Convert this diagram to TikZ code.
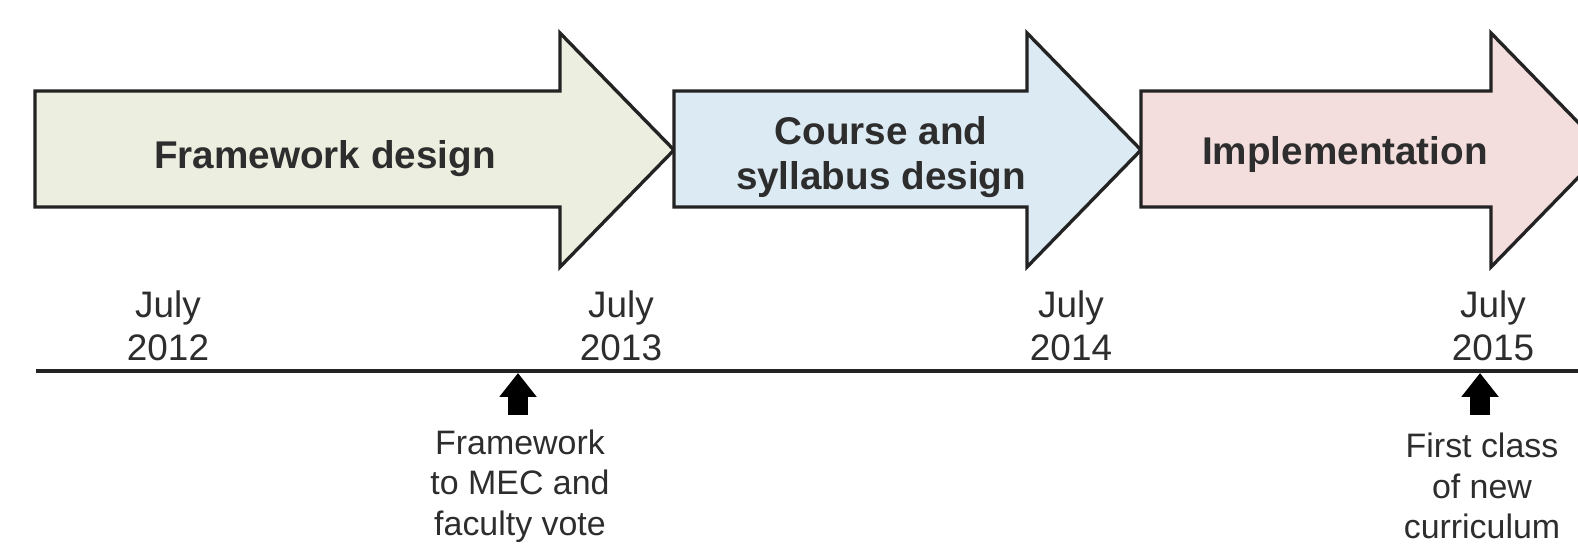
\documentclass[tikz,border=0pt]{standalone}
\usepackage{fontspec}
\setmainfont{Liberation Sans}
\usetikzlibrary{arrows.meta}
\definecolor{fwfill}{RGB}{236,238,223}
\definecolor{csfill}{RGB}{220,234,243}
\definecolor{imfill}{RGB}{243,221,221}
\definecolor{inkgray}{RGB}{35,35,35}
\definecolor{labelgray}{RGB}{45,45,45}
\begin{document}
\begin{tikzpicture}[x=0.02cm, y=-0.02cm,
    phase/.style={draw=inkgray, line width=1.9pt, line join=miter},
    phase label/.style={font=\fontsize{22}{26}\selectfont\bfseries, text=labelgray, align=center, inner sep=0pt},
    date label/.style={font=\fontsize{21}{24.4}\selectfont, text=labelgray, align=center, inner sep=0pt},
    note label/.style={font=\fontsize{19.3}{23.2}\selectfont, text=labelgray, align=center, inner sep=0pt},
    milestone/.style={draw=black, line width=11.3pt, -{Triangle[width=20.4pt,length=13.6pt]}}]
    \clip (0,0) rectangle (1578,544);
    \fill[white] (0,0) rectangle (1578,544);

    % phases
    \draw[phase, fill=fwfill] (35,91) -- (560,91) -- (560,33) -- (674,150) -- (560,267) -- (560,207) -- (35,207) -- cycle;
    \draw[phase, fill=csfill] (674,91) -- (1027,91) -- (1027,33) -- (1141,150) -- (1027,267) -- (1027,207) -- (674,207) -- cycle;
    \draw[phase, fill=imfill] (1141,91) -- (1491,91) -- (1491,33) -- (1605,150) -- (1491,267) -- (1491,207) -- (1141,207) -- cycle;

    \node[phase label] at (325,159) (fw) {Framework design};
    \node[phase label] at (881,157) (cs) {Course and\\syllabus design};
    \node[phase label] at (1345,155) (im) {Implementation};

    % timeline
    \coordinate (tl0) at (36,371);
    \coordinate (tl1) at (1578,371);
    \draw[inkgray, line width=2pt] (tl0) -- (tl1);

    \node[date label] at (168,326) (d12) {July\\2012};
    \node[date label] at (621,326) (d13) {July\\2013};
    \node[date label] at (1071,326) (d14) {July\\2014};
    \node[date label] at (1493,326) (d15) {July\\2015};

    % milestones
    \node[note label] at (520,486) (vote) {Framework\\to MEC and\\faculty vote};
    \node[note label] at (1482,486) (first) {First class\\of new\\curriculum};

    \coordinate (m1) at (518,373);
    \coordinate (m2) at (1480,373);
    \draw[milestone] (518,415) -- (m1);
    \draw[milestone] (1480,415) -- (m2);
\end{tikzpicture}
\end{document}
